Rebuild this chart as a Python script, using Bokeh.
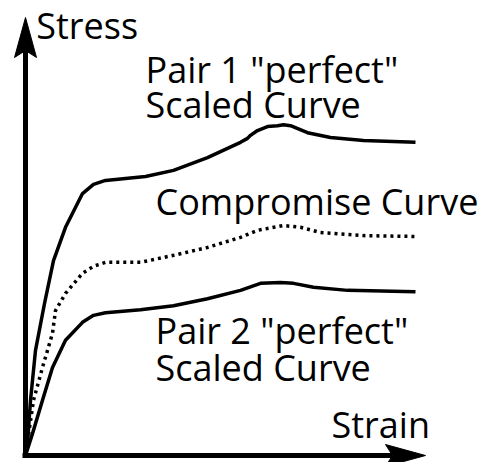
from bokeh.plotting import figure
from bokeh.models import Range1d
from bokeh.core.properties import value
from bokeh.embed import file_html
from bokeh.resources import INLINE

# ---- data (schematic stress-strain curves, arbitrary units) ----
strain_pair1 = [0.0, 0.05, 0.125, 0.25, 0.475, 0.70, 1.00, 1.425, 1.70, 2.00, 3.00, 3.70,
                4.55, 5.375, 5.55, 5.625, 5.80, 6.05, 6.30, 6.45, 6.625, 7.05, 7.625, 8.45, 9.75]
stress_pair1 = [0.0, 0.27, 1.26, 2.40, 3.47, 4.45, 5.21, 5.98, 6.19, 6.28, 6.37, 6.51,
                6.80, 7.15, 7.24, 7.31, 7.42, 7.51, 7.53, 7.55, 7.53, 7.37, 7.26, 7.19, 7.15]

strain_comp = [0.0, 0.20, 0.425, 0.675, 0.75, 1.00, 1.425, 1.70, 2.00, 2.875, 3.70,
               4.55, 5.375, 5.80, 6.45, 6.875, 7.375, 8.45, 9.75]
stress_comp = [0.0, 1.26, 2.01, 2.79, 3.31, 3.70, 4.16, 4.32, 4.41, 4.41, 4.57,
               4.75, 4.98, 5.14, 5.25, 5.21, 5.09, 5.02, 5.00]

strain_pair2 = [0.0, 0.175, 0.425, 0.675, 1.00, 1.425, 1.70, 2.00, 2.875, 3.70, 4.55,
                5.375, 5.875, 6.375, 6.70, 7.20, 8.05, 9.75]
stress_pair2 = [0.0, 0.50, 1.26, 2.01, 2.63, 3.04, 3.20, 3.26, 3.33, 3.42, 3.58,
                3.77, 3.93, 3.95, 3.93, 3.84, 3.77, 3.74]

label_text = ["Stress", 'Pair 1 "perfect"', "Scaled Curve", "Compromise Curve",
              'Pair 2 "perfect"', "Scaled Curve", "Strain"]
label_strain = [0.27, 3.0, 3.0, 3.25, 3.25, 3.25, 7.65]
label_stress = [9.82, 8.82, 8.02, 5.80, 2.86, 2.01, 0.71]

axis_strain_end = 10.0
axis_stress_end = 10.0

# ---- figure ----
W, H = 480, 462
PX_X, PX_Y = 40.0, 43.8           # pixels per data unit
x0 = -25 / PX_X
y0 = -7 / PX_Y
p = figure(width=W, height=H, output_backend="svg", toolbar_location=None,
           x_range=Range1d(x0, x0 + W / PX_X), y_range=Range1d(y0, y0 + H / PX_Y),
           min_border=0)
p.axis.visible = False
p.grid.visible = False
p.outline_line_color = None
p.background_fill_color = "white"
p.border_fill_color = "white"

# axes with arrow heads
LW_AX = 5
head_len, head_notch, head_half = 40, 33, 11
p.line([-3 / PX_X, axis_strain_end - head_notch / PX_X], [0, 0],
       line_width=LW_AX, line_color="black", line_cap="butt")
p.line([0, 0], [-2.5 / PX_Y, axis_stress_end - head_notch / PX_Y],
       line_width=LW_AX, line_color="black", line_cap="butt")
p.patch([axis_strain_end, axis_strain_end - head_len / PX_X,
         axis_strain_end - head_notch / PX_X, axis_strain_end - head_len / PX_X],
        [0, head_half / PX_Y, 0, -head_half / PX_Y],
        fill_color="black", line_color="black", line_width=1)
p.patch([0, head_half / PX_X, 0, -head_half / PX_X],
        [axis_stress_end, axis_stress_end - head_len / PX_Y,
         axis_stress_end - head_notch / PX_Y, axis_stress_end - head_len / PX_Y],
        fill_color="black", line_color="black", line_width=1)

# curves
p.line(strain_pair1, stress_pair1, line_width=3.5, line_color="black", line_join="round")
p.line(strain_pair2, stress_pair2, line_width=3.5, line_color="black", line_join="round")
p.line(strain_comp, stress_comp, line_width=3.5, line_color="black", line_dash="3 4")

# labels
p.text(label_strain, label_stress, text=label_text, text_font=value("Open Sans"),
       text_font_size="36px", text_color="black", text_align="left",
       text_baseline="alphabetic")

open("out.html", "w").write(file_html(p, INLINE))
